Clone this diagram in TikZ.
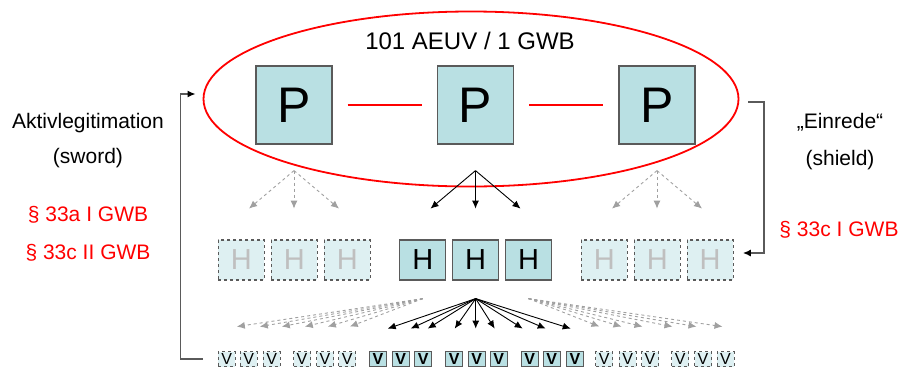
\documentclass[tikz,border=0pt]{standalone}
\usepackage{fontspec}
\setmainfont{Liberation Sans}
\usetikzlibrary{arrows.meta,shapes.geometric}

\definecolor{boxfill}{RGB}{185,224,227}
\definecolor{boxfaint}{RGB}{222,240,242}
\definecolor{boxline}{RGB}{90,90,90}
\definecolor{fadegray}{RGB}{160,160,160}

\begin{document}
\begin{tikzpicture}[x=1pt, y=-1pt,
			pbox/.style={draw=boxline, line width=1.2pt, fill=boxfill, inner sep=0pt,
				minimum width=76pt, minimum height=78pt, font=\fontsize{50}{50}\selectfont},
			hbox/.style={draw=boxline, line width=1.2pt, fill=boxfill, inner sep=0pt,
				minimum width=46pt, minimum height=40pt, font=\fontsize{29}{29}\selectfont},
			hfaint/.style={hbox, dashed, fill=boxfaint, text=lightgray},
			vbox/.style={draw=boxline, line width=1pt, fill=boxfill, inner sep=0pt,
				minimum width=17pt, minimum height=15pt, font=\fontsize{16}{16}\selectfont\bfseries},
			vfaint/.style={vbox, dashed, fill=boxfaint, font=\fontsize{16}{16}\selectfont},
			fan/.style={->, line width=0.9pt},
			fanfaint/.style={fan, dashed, fadegray},
			bracket/.style={draw=boxline, line width=1.5pt, -{Latex[length=8pt,width=7pt,color=black]}},
			label/.style={anchor=base, font=\fontsize{21}{25}\selectfont},
			lawref/.style={label, text=red},
			>={Latex[length=8pt,width=7pt]}]
	\useasboundingbox (0,0) rectangle (904,367);
	% undertakings and the group
	\node[draw=red, line width=1.8pt, ellipse, minimum width=535pt, minimum height=175pt] (gwb) at (471,99) {};
	\node[anchor=base, font=\fontsize{24}{24}\selectfont] (title) at (470,49) {101 AEUV / 1 GWB};
	\node[pbox] (p1) at (294,105) {P};
	\node[pbox] (p2) at (475.5,105) {P};
	\node[pbox] (p3) at (657,105) {P};
	\draw[red, line width=1.8pt, shorten <=15pt, shorten >=15pt] (p1) -- (p2);
	\draw[red, line width=1.8pt, shorten <=15pt, shorten >=15pt] (p2) -- (p3);
	% subsidiaries
	\foreach \x [count=\n] in {241.3,294.3,347.4} \node[hfaint] (h\n) at (\x,260) {H};
	\foreach \x [count=\n from 4] in {422.8,475.7,528.5} \node[hbox] (h\n) at (\x,260) {H};
	\foreach \x [count=\n from 7] in {604.3,657.3,710.2} \node[hfaint] (h\n) at (\x,260) {H};
	\foreach \g/\st in {1/fanfaint, 2/fan, 3/fanfaint} {
		\coordinate (pa\g) at ([yshift=-26pt]p\g.south);
		\foreach \d [count=\k] in {-45,0,45} {
			\coordinate (ht\g\k) at ([shift={(\d,38)}]pa\g);
			\draw[\st] (pa\g) -- (ht\g\k);
		}
	}
	% sub-subsidiaries
	\foreach \x [count=\n] in {226.7,248.7,271.7,302,325,347.3} \node[vfaint] (v\n) at (\x,359) {V};
	\foreach \x [count=\n from 7] in {378,400.8,423.3,454.3,476.8,498.7,529.7,551.7,575} \node[vbox] (v\n) at (\x,359) {V};
	\foreach \x [count=\n from 16] in {604.3,627.7,650,680.3,703,725.5} \node[vfaint] (v\n) at (\x,359) {V};
	\coordinate (va) at ([yshift=-18pt]h5.south);
	\coordinate (val) at ([yshift=-18pt]h4.south);
	\coordinate (var) at ([yshift=-18pt]h6.south);
	\foreach \d [count=\k] in {-88,-65,-48,-21,0,19,47,70,95} {
		\coordinate (vt\k) at ([shift={(\d,30)}]va);
		\draw[fan] (va) -- (vt\k);
	}
	\foreach \d [count=\k] in {-186,-163,-141,-118,-95,-73} {
		\coordinate (vtl\k) at ([shift={(\d,28)}]val);
		\draw[fanfaint] (val) -- (vtl\k);
	}
	\foreach \d [count=\k] in {71,93,114,144,168,194} {
		\coordinate (vtr\k) at ([shift={(\d,28)}]var);
		\draw[fanfaint] (var) -- (vtr\k);
	}
	% sword and shield
	\draw[bracket] ([xshift=-15pt]v1.west) -| ([shift={(-22,-5)}]gwb.west) -- ([shift={(-7,-5)}]gwb.west);
	\draw[bracket] ([shift={(9,3)}]gwb.east) -| ([shift={(30,-7)}]h9.east) -- ([shift={(9,-7)}]h9.east);
	\node[label] (aktiv) at (88,128) {Aktivlegitimation};
	\node[label] (sword) at (88,163) {(sword)};
	\node[lawref] (norm1) at (88,221.5) {§ 33a I GWB};
	\node[lawref] (norm2) at (88,259) {§ 33c II GWB};
	\node[label] (einrede) at (840,128) {„Einrede“};
	\node[label] (shield) at (840,165) {(shield)};
	\node[lawref] (norm3) at (839,236) {§ 33c I GWB};
\end{tikzpicture}
\end{document}
